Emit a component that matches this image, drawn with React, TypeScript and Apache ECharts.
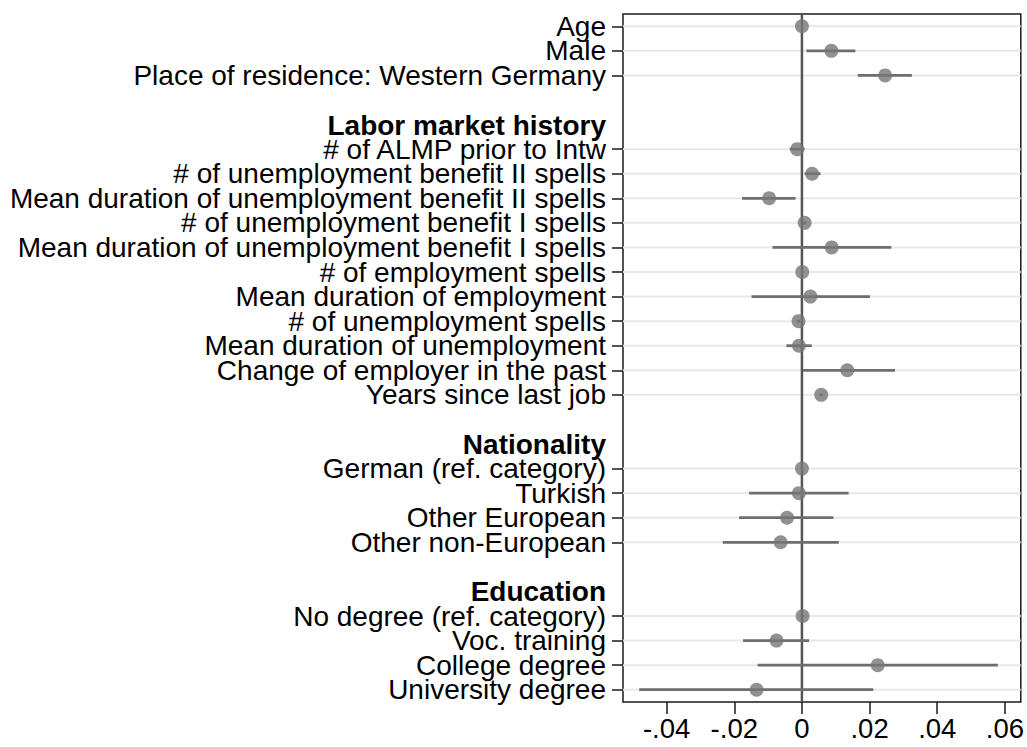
import React, { useEffect, useRef } from "react";
import * as echarts from "echarts";

const categories = [
  "Age",
  "Male",
  "Place of residence: Western Germany",
  "",
  "Labor market history",
  "# of ALMP prior to Intw",
  "# of unemployment benefit II spells",
  "Mean duration of unemployment benefit II spells",
  "# of unemployment benefit I spells",
  "Mean duration of unemployment benefit I spells",
  "# of employment spells",
  "Mean duration of employment",
  "# of unemployment spells",
  "Mean duration of unemployment",
  "Change of employer in the past",
  "Years since last job",
  "",
  "Nationality",
  "German (ref. category)",
  "Turkish",
  "Other European",
  "Other non-European",
  "",
  "Education",
  "No degree (ref. category)",
  "Voc. training",
  "College degree",
  "University degree",
];

const headers = ["Labor market history", "Nationality", "Education"];

const estimates: (number | null)[] = [
  0, 0.0087, 0.0246, null, null,
  -0.0014, 0.003, -0.0097, 0.0008, 0.0088, 0.0001, 0.0025, -0.001, -0.0009, 0.0134, 0.0057,
  null, null,
  0, -0.0009, -0.0044, -0.0063,
  null, null,
  0.0002, -0.0075, 0.0224, -0.0134,
];

const ciLow: (number | null)[] = [
  -0.0003, 0.0013, 0.0165, null, null,
  -0.0036, 0.0008, -0.0177, 0.0003, -0.0087, -0.0003, -0.0149, -0.0015, -0.0046, 0.0003, 0.0052,
  null, null,
  -0.0002, -0.0156, -0.0186, -0.0234,
  null, null,
  -0.0002, -0.0174, -0.0131, -0.0481,
];

const ciHigh: (number | null)[] = [
  0.0003, 0.0158, 0.0325, null, null,
  0.0008, 0.0055, -0.0019, 0.0013, 0.0264, 0.0005, 0.0201, -0.0005, 0.0029, 0.0275, 0.0062,
  null, null,
  0.0002, 0.0138, 0.0093, 0.0109,
  null, null,
  0.0006, 0.0021, 0.0579, 0.0211,
];

const xTicks = [-0.04, -0.02, 0, 0.02, 0.04, 0.06];

const FONT = "'Liberation Sans', Arial, Helvetica, sans-serif";

export default function App() {
  const ref = useRef<HTMLDivElement>(null);

  useEffect(() => {
    if (!ref.current) return;
    const chart = echarts.init(ref.current, undefined, { renderer: "svg" });

    const dataRows: number[] = [];
    categories.forEach((_c, i) => {
      if (estimates[i] !== null) dataRows.push(i);
    });

    const pointData = dataRows.map((i) => [estimates[i], i]);
    const ciData = dataRows.map((i) => [ciLow[i], ciHigh[i], i]);
    const gridData = dataRows.map((i) => [0, i]);

    const fmtX = (v: number) => {
      if (Math.abs(v) < 1e-9) return "0";
      const s = Math.abs(v).toFixed(2).replace(/^0/, "");
      return (v < 0 ? "-" : "") + s;
    };

    chart.setOption({
      animation: false,
      backgroundColor: "#ffffff",
      grid: {
        left: 623,
        top: 14,
        right: 5,
        bottom: 45,
        show: true,
        borderColor: "#1a1a1a",
        borderWidth: 1.5,
        backgroundColor: "transparent",
      },
      xAxis: {
        type: "value",
        position: "bottom",
        min: -0.0529,
        max: 0.0647,
        axisLine: { show: false, onZero: false },
        splitLine: { show: false },
        axisTick: {
          show: true,
          length: 12,
          customValues: xTicks,
          lineStyle: { color: "#1a1a1a", width: 1.5 },
        },
        axisLabel: {
          customValues: xTicks,
          formatter: fmtX,
          fontFamily: FONT,
          fontSize: 27.5,
          color: "#000",
          margin: 12,
          showMinLabel: true,
          showMaxLabel: true,
        },
      },
      yAxis: {
        type: "category",
        position: "left",
        inverse: true,
        boundaryGap: true,
        data: categories,
        axisLine: { show: false, onZero: false },
        splitLine: { show: false },
        axisTick: {
          show: true,
          length: 11,
          alignWithLabel: true,
          interval: (index: number) => estimates[index] !== null,
          lineStyle: { color: "#1a1a1a", width: 1.5 },
        },
        axisLabel: {
          interval: 0,
          formatter: (_v: string, index: number) => {
            const t = categories[index] ?? "";
            if (t === "") return "";
            return headers.includes(t) ? `{h|${t}}` : t;
          },
          fontFamily: FONT,
          fontSize: 28,
          lineHeight: 20,
          color: "#000",
          margin: 17,
          rich: {
            h: {
              fontFamily: FONT,
              fontSize: 28,
              lineHeight: 20,
              fontWeight: "bold",
              color: "#000",
              padding: [1, 0, 0, 0],
            },
          },
        },
      },
      series: [
        {
          type: "custom",
          silent: true,
          z: 1,
          encode: { x: 0, y: 1 },
          data: gridData,
          renderItem: (params: any, api: any) => {
            const cs = params.coordSys;
            const y = api.coord([0, api.value(1)])[1];
            return {
              type: "line",
              shape: { x1: cs.x, y1: y, x2: cs.x + cs.width, y2: y },
              style: { stroke: "#e8e8e8", lineWidth: 2 },
            };
          },
        },
        {
          type: "custom",
          silent: true,
          z: 2,
          encode: { x: 0, y: 1 },
          data: [[0, 0]],
          renderItem: (params: any, api: any) => {
            const cs = params.coordSys;
            const x = api.coord([0, 0])[0];
            return {
              type: "line",
              shape: { x1: x, y1: cs.y, x2: x, y2: cs.y + cs.height },
              style: { stroke: "#555555", lineWidth: 2.5 },
            };
          },
        },
        {
          type: "custom",
          silent: true,
          z: 3,
          encode: { x: [0, 1], y: 2 },
          data: ciData,
          renderItem: (params: any, api: any) => {
            const p1 = api.coord([api.value(0), api.value(2)]);
            const p2 = api.coord([api.value(1), api.value(2)]);
            return {
              type: "line",
              shape: { x1: p1[0], y1: p1[1], x2: p2[0], y2: p2[1] },
              style: { stroke: "#6e6e6e", lineWidth: 2.8 },
            };
          },
        },
        {
          type: "scatter",
          z: 4,
          symbol: "circle",
          symbolSize: 14,
          itemStyle: { color: "#757575" },
          data: pointData,
        },
      ],
    });

    return () => chart.dispose();
  }, []);

  return (
    <div
      ref={ref}
      style={{ position: "fixed", left: 0, top: 0, width: 1027, height: 747 }}
    />
  );
}
